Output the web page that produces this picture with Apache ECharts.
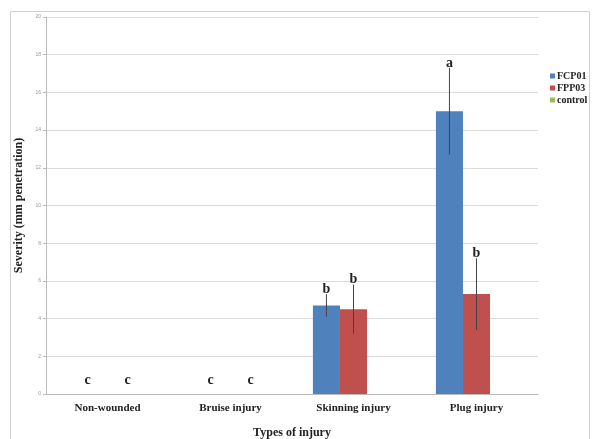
<!DOCTYPE html>
<html>
<head>
<meta charset="utf-8">
<script src="https://cdn.jsdelivr.net/npm/echarts@6/dist/echarts.min.js"></script>
<style>html,body{margin:0;padding:0;background:#fff}#c{width:595px;height:439px}</style>
</head>
<body>
<div id="c"></div>
<script>
const categories = ['Non-wounded', 'Bruise injury', 'Skinning injury', 'Plug injury'];
const seriesNames = ['FCP01', 'FPP03', 'control'];
const fcp01 = [0, 0, 4.7, 15.0];
const fpp03 = [0, 0, 4.5, 5.3];
const control = [0, 0, 0, 0];
const fcp01Err = [0, 0, 0.6, 2.3];
const fpp03Err = [0, 0, 1.3, 1.9];
const fcp01Letters = ['c', 'c', 'b', 'a'];
const fpp03Letters = ['c', 'c', 'b', 'b'];
const yTicks = ['0', '2', '4', '6', '8', '10', '12', '14', '16', '18', '20'];

const colors = ['#4F81BD', '#C0504D', '#9BBB59'];
const GAP = 0.34;
const serif = '"Liberation Serif", "DejaVu Serif", serif';

function errSeries(name, means, errs, letters, idx) {
  return {
    type: 'custom',
    name: name + ' err',
    z: 5,
    silent: true,
    tooltip: {show: false},
    data: means.map((m, i) => [i, m, errs[i]]),
    renderItem: function (params, api) {
      const ci = api.value(0), m = api.value(1), e = api.value(2);
      const band = api.size([1, 0])[0];
      const barW = band * (1 - GAP) / 3;
      const center = api.coord([ci, 0])[0];
      const x = center + (idx - 1) * barW;
      const top = api.coord([ci, m + e]);
      const bot = api.coord([ci, m - e]);
      const children = [];
      if (e > 0) {
        children.push({type: 'line', shape: {x1: x, y1: top[1], x2: x, y2: bot[1]},
          style: {stroke: '#444', lineWidth: 1}});
      }
      const empty = m + e === 0;
      const lx = empty ? center + (idx - 0.5) * 40 : x;
      const ly = top[1] - (empty ? 14 : 5);
      children.push({type: 'text', style: {x: lx, y: ly, text: letters[ci],
        fill: '#222', font: 'bold 14px ' + serif, align: 'center', verticalAlign: 'middle'}});
      return {type: 'group', children: children};
    }
  };
}

const chart = echarts.init(document.getElementById('c'), null, {renderer: 'canvas'});
chart.setOption({
  animation: false,
  backgroundColor: '#fff',
  color: colors,
  graphic: [{type: 'rect', shape: {x: 10.5, y: 11.5, width: 579, height: 440},
    style: {fill: 'none', stroke: '#d0d0d0', lineWidth: 1}, silent: true}],
  legend: {
    orient: 'vertical', left: 545, top: 66, itemWidth: 5, itemHeight: 5, itemGap: 2,
    icon: 'rect', data: seriesNames,
    textStyle: {fontFamily: serif, fontWeight: 'bold', fontSize: 10, color: '#222', padding: [0, 0, 0, -3]}
  },
  grid: {left: 46, right: 57, top: 17, bottom: 45, outerBoundsMode: 'none', containLabel: false},
  xAxis: {
    type: 'category', data: categories,
    name: 'Types of injury', nameLocation: 'middle', nameGap: 33,
    nameTextStyle: {fontFamily: serif, fontWeight: 'bold', fontSize: 12, color: '#222'},
    axisLine: {lineStyle: {color: '#bbb'}},
    axisTick: {show: false},
    axisLabel: {fontFamily: serif, fontWeight: 'bold', fontSize: 11, color: '#222', margin: 9}
  },
  yAxis: {
    type: 'value', min: 0, max: 20, interval: 2,
    name: 'Severity (mm penetration)', nameLocation: 'middle', nameGap: 18,
    nameTextStyle: {fontFamily: serif, fontWeight: 'bold', fontSize: 12, color: '#222'},
    axisLine: {show: true, lineStyle: {color: '#bbb'}},
    axisTick: {show: true, length: 3, lineStyle: {color: '#bbb'}},
    axisLabel: {fontSize: 5, color: '#999', margin: 5, formatter: (v) => yTicks[Math.round(v / 2)]},
    splitLine: {lineStyle: {color: '#dcdcdc'}}
  },
  series: [
    {type: 'bar', name: seriesNames[0], data: fcp01, barGap: '0%', barCategoryGap: (GAP * 100) + '%'},
    {type: 'bar', name: seriesNames[1], data: fpp03},
    {type: 'bar', name: seriesNames[2], data: control},
    errSeries(seriesNames[0], fcp01, fcp01Err, fcp01Letters, 0),
    errSeries(seriesNames[1], fpp03, fpp03Err, fpp03Letters, 1)
  ]
});
</script>
</body>
</html>
